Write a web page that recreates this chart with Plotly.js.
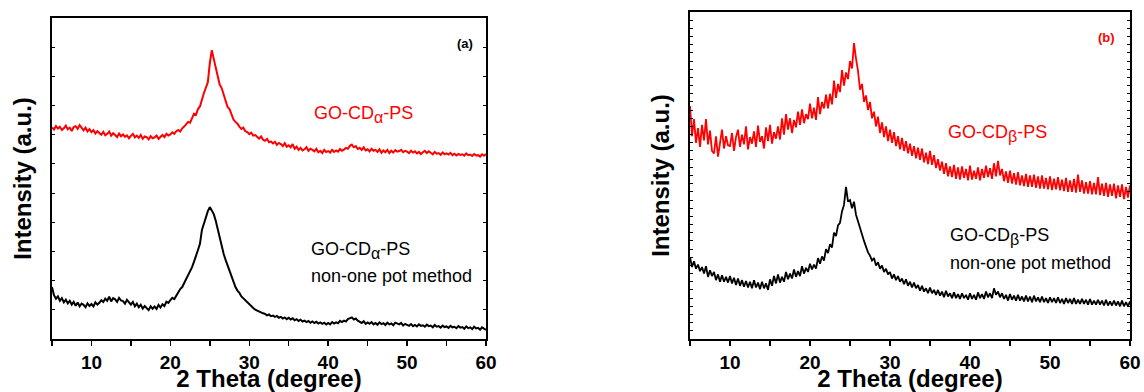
<!DOCTYPE html>
<html>
<head>
<meta charset="utf-8">
<script src="https://cdn.plot.ly/plotly-3.0.1.min.js"></script>
<style>html,body{margin:0;padding:0;background:#fff;}#chart{width:1144px;height:392px;}</style>
</head>
<body>
<div id="chart"></div>
<script>
// 2-theta scan: start and step (degrees)
const thetaStart = 5;
const thetaStep = 0.25;
const xTickVals = [5,10,15,20,25,30,35,40,45,50,55,60];
const xTickText = ["","10","","20","","30","","40","","50","","60"];

// Panel (a): GO-CDα-PS (red) and non-one pot method (black), counts
const alphaOnePot = [
725,718,730,721, 727,716,722,731, 719,724,713,726, 729,720,733,722, 715,724,711,719,
709,716,704,712, 707,700,710,698, 703,711,697,705, 699,692,704,695, 701,693,698,688,
696,703,691,697, 689,699,686,694, 692,684,695,688, 691,697,686,694, 699,692,703,697,
701,708,703,712, 716,711,722,728, 737,744,741,756, 772,768,788,797, 822,843,861,880,
945,990,960,930, 895,872,860,838, 810,795,788,770, 752,744,738,728, 720,724,712,709,
702,707,697,699, 692,687,694,683, 679,686,674,677, 670,676,665,672, 668,661,671,659,
664,657,668,652, 659,648,655,646, 650,657,645,652, 648,643,652,640, 645,637,648,641,
644,639,648,641, 646,642,651,645, 649,655,652,662, 666,657,661,651, 655,648,657,646,
650,643,652,645, 648,641,650,638, 646,640,648,637, 645,639,647,642, 644,648,640,645,
642,637,645,639, 643,636,641,634, 640,645,637,643, 638,633,641,635, 637,631,639,633,
636,632,638,630, 635,629,634,631, 633,628,636,630, 632,627,634,629, 630,625,633,628,
634];
const alphaNonOnePot = [
178,150,138,146, 131,140,126,135, 122,131,118,127, 114,125,112,121, 117,109,122,113,
120,112,126,118, 124,133,127,138, 131,145,129,140, 136,127,141,132, 130,121,134,125,
118,127,112,121, 109,117,104,113, 107,99,112,104, 111,103,117,108, 119,113,128,124,
133,141,137,150, 162,171,178,192, 204,215,231,246, 265,282,305,326, 374,395,418,438,
452,440,428,405, 374,345,318,292, 271,252,233,212, 190,178,166,158, 146,139,131,127,
118,112,106,101, 97,94,90,88, 86,81,84,78, 80,76,79,73, 76,70,74,68,
73,67,71,64, 68,62,66,60, 63,58,62,56, 60,55,59,53, 57,52,56,50,
55,50,58,53, 57,54,62,58, 63,60,68,72, 74,67,70,63, 60,55,61,52,
57,52,58,50, 55,49,57,51, 54,48,56,50, 53,47,56,52, 50,55,46,52,
49,45,51,44, 48,43,50,45, 47,42,49,44, 46,40,48,42, 44,39,46,41,
43,38,45,40, 42,37,44,39, 41,35,43,37, 40,34,42,36, 38,32,40,34,
31];

// Panel (b): GO-CDβ-PS (red) and non-one pot method (black), counts
const betaOnePot = [
2850,2480,2690,2400, 2580,2350,2620,2430, 2690,2380,2550,2300, 2270,2480,2230,2420, 2560,2330,2480,2370,
2360,2520,2300,2470, 2560,2350,2500,2380, 2600,2320,2470,2390, 2540,2350,2610,2410, 2480,2330,2590,2420,
2620,2390,2530,2450, 2600,2440,2700,2500, 2750,2560,2700,2520, 2680,2590,2780,2620, 2810,2640,2750,2690,
2880,2700,2830,2680, 2960,2750,2900,2820, 2990,2820,3000,2870, 3160,2950,3120,3020, 3290,3100,3260,3180,
3400,3310,3620,3430, 3280,3050,3120,2900, 2980,2800,2900,2700, 2780,2600,2720,2520, 2650,2470,2600,2420,
2560,2400,2530,2360, 2480,2320,2460,2300, 2420,2270,2390,2240, 2360,2210,2340,2190, 2330,2160,2280,2140,
2300,2130,2250,2090, 2200,2060,2170,2020, 2150,1990,2110,1980, 2130,1960,2100,1950, 2110,1970,2080,1940,
2120,1950,2060,1960, 2100,1940,2080,1970, 2120,1980,2090,1960, 2150,1990,2180,2000, 2080,1930,2050,1910,
2060,1900,2030,1890, 2040,1880,2000,1870, 2020,1860,2000,1860, 2010,1850,1990,1840, 2000,1840,1970,1830,
1990,1820,1960,1830, 1980,1820,1950,1810, 1970,1800,1940,1800, 1960,1790,2010,1800, 1940,1780,1920,1780,
1930,1770,1910,1770, 1980,1760,1900,1750, 1910,1740,1890,1750, 1900,1720,1880,1740, 1890,1710,1860,1730,
1880];
const betaNonOnePot = [
1000,880,950,860, 910,830,880,800, 890,760,840,770, 820,720,790,700, 780,700,760,690,
770,680,750,660, 740,650,720,640, 710,630,700,620, 720,630,690,610, 700,620,680,600,
730,650,770,680, 790,690,760,700, 820,730,800,740, 850,760,830,770, 890,800,870,820,
920,850,910,860, 990,920,1010,960, 1100,1050,1160,1120, 1300,1260,1390,1420, 1560,1640,1860,1680,
1700,1600,1680,1520, 1440,1360,1250,1200, 1130,1060,1020,960, 990,900,940,860, 900,820,860,790,
820,740,790,720, 770,700,740,670, 730,650,700,630, 690,620,660,590, 650,580,620,560,
630,560,600,540, 600,530,580,510, 590,520,560,500, 570,500,550,490, 560,500,540,480,
560,490,540,480, 570,500,550,490, 580,510,560,500, 620,540,580,510, 560,490,540,470,
550,480,530,470, 540,470,520,460, 530,460,520,450, 530,460,510,450, 520,450,500,440,
510,450,500,440, 510,440,490,430, 500,440,490,430, 500,430,480,430, 490,430,480,420,
490,420,470,420, 480,420,470,410, 480,410,460,410, 470,410,460,400, 470,400,450,400,
460];

const RED = '#ff0000', BLACK = '#000000';
const FONT = 'Liberation Sans, Arial, Helvetica, sans-serif';

function trace(y, color, xa, ya, w) {
  return {type:'scatter', mode:'lines', x0: thetaStart, dx: thetaStep, y: y,
    xaxis: xa, yaxis: ya, line:{color: color, width: w}, hoverinfo:'skip', showlegend:false};
}

const data = [
  trace(alphaNonOnePot, BLACK, 'x', 'y', 2),
  trace(alphaOnePot, RED, 'x', 'y', 2),
  trace(betaNonOnePot, BLACK, 'x2', 'y2', 1.8),
  trace(betaOnePot, RED, 'x2', 'y2', 1.8)
];

function xAxis(domain, anchor) {
  return {domain: domain, anchor: anchor, range:[5,60], tickmode:'array', tickvals:xTickVals,
    ticktext:xTickText.map(t => t ? '<b>' + t + '</b>' : ''),
    ticks:'outside', ticklen:5, tickwidth:1.5, tickcolor:'#000', showline:true, linecolor:'#000', linewidth:2,
    mirror:true, showgrid:false, zeroline:false,
    tickfont:{family:FONT, size:19, color:'#000', weight:'bold'},
    title:{text:'<b>2 Theta (degree)</b>', font:{family:FONT, size:24, color:'#000'}, standoff:0}};
}
function yAxis(domain, anchor, range, dtick) {
  return {domain: domain, anchor: anchor, range: range, dtick: dtick, tick0:0,
    ticks:'inside', ticklen:3, tickwidth:1, tickcolor:'#000', showticklabels:false,
    showline:true, linecolor:'#000', linewidth:2, mirror:'ticks', showgrid:false, zeroline:false,
    title:{text:'<b>Intensity (a.u.)</b>', font:{family:FONT, size:24, color:'#000'}, standoff:12}};
}

const labelFont = (c) => ({family:FONT, size:18, color:c});
const subA = '<sub><span style="font-size:16px">α</span></sub>';
const subB = '<sub><span style="font-size:16px">β</span></sub>';
const layout = {
  width:1144, height:392, margin:{l:0, r:0, t:0, b:0}, paper_bgcolor:'#fff', plot_bgcolor:'#fff',
  showlegend:false,
  xaxis: xAxis([52/1144, 486/1144], 'y'),
  yaxis: yAxis([53/392, 374/392], 'x', [0,1100], 100),
  xaxis2: xAxis([690/1144, 1130/1144], 'y2'),
  yaxis2: yAxis([53/392, 380/392], 'x2', [0,4000], 100),
  annotations: [
    {xref:'x', yref:'y', x:57.3, y:1014, text:'<b>(a)</b>', showarrow:false, font:{family:FONT, size:13, color:'#000'}},
    {xref:'x', yref:'y', x:37.9, y:770, xanchor:'left', text:'GO-CD' + subA + '-PS', showarrow:false, font:labelFont(RED)},
    {xref:'x', yref:'y', x:37.6, y:305, xanchor:'left', text:'GO-CD' + subA + '-PS', showarrow:false, font:labelFont(BLACK)},
    {xref:'x', yref:'y', x:37.6, y:216, xanchor:'left', text:'non-one pot method', showarrow:false, font:labelFont(BLACK)},
    {xref:'x2', yref:'y2', x:57.1, y:3693, text:'<b>(b)</b>', showarrow:false, font:{family:FONT, size:13, color:RED}},
    {xref:'x2', yref:'y2', x:37.0, y:2510, xanchor:'left', text:'GO-CD' + subB + '-PS', showarrow:false, font:labelFont(RED)},
    {xref:'x2', yref:'y2', x:37.25, y:1250, xanchor:'left', text:'GO-CD' + subB + '-PS', showarrow:false, font:labelFont(BLACK)},
    {xref:'x2', yref:'y2', x:37.25, y:929, xanchor:'left', text:'non-one pot method', showarrow:false, font:labelFont(BLACK)}
  ]
};

Plotly.newPlot('chart', data, layout, {displayModeBar:false, staticPlot:true});
</script>
</body>
</html>
